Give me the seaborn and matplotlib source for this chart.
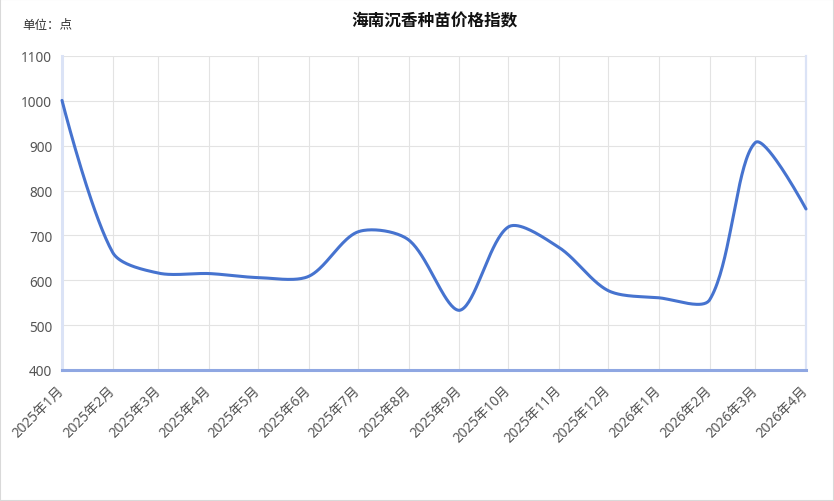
import numpy as np
import pandas as pd
import seaborn as sns
import matplotlib
matplotlib.use("Agg")
import matplotlib.pyplot as plt
import matplotlib.dates as mdates
from matplotlib.patches import Rectangle
from matplotlib.transforms import ScaledTranslation

# data
months = ["2025-01-01", "2025-02-01", "2025-03-01", "2025-04-01", "2025-05-01", "2025-06-01",
          "2025-07-01", "2025-08-01", "2025-09-01", "2025-10-01", "2025-11-01", "2025-12-01",
          "2026-01-01", "2026-02-01", "2026-03-01", "2026-04-01"]
month_labels = ["2025年1月", "2025年2月", "2025年3月", "2025年4月", "2025年5月", "2025年6月",
                "2025年7月", "2025年8月", "2025年9月", "2025年10月", "2025年11月", "2025年12月",
                "2026年1月", "2026年2月", "2026年3月", "2026年4月"]
index_values = [1001, 662, 616, 615, 606, 609, 708, 690, 533, 719, 673, 577, 561, 556, 907, 759]
y_ticks = [400, 500, 600, 700, 800, 900, 1000, 1100]

TITLE = "海南沉香种苗价格指数"
UNIT = "单位：点"
LINE_COLOR = "#4673cf"
SMOOTH = 0.3

sns.set_style("white")
plt.rcParams["font.family"] = ["Noto Sans", "Noto Sans CJK SC", "DejaVu Sans"]

df = pd.DataFrame({"month": pd.to_datetime(months), "value": index_values})
df["x"] = mdates.date2num(df["month"])

W, H = 834, 502
fig = plt.figure(figsize=(W / 100, H / 100), dpi=100)
ax = fig.add_axes([62 / W, 1 - 371 / H, (806 - 62) / W, (371 - 57) / H])
ax.set_xlim(df["x"].iloc[0], df["x"].iloc[-1])
ax.set_ylim(y_ticks[0], y_ticks[-1])


def smooth_curve(px, py, smooth=0.5, steps=40):
    # bezier smoothing in pixel space, control points kept inside the points' bbox
    lo = np.array([px.min(), py.min()])
    hi = np.array([px.max(), py.max()])
    pts = np.column_stack([px, py])
    n = len(pts)
    t = np.linspace(0, 1, steps)[1:, None]
    out = [pts[0]]
    cp0 = pts[0].copy()
    for i in range(1, n):
        p, prev = pts[i], pts[i - 1]
        if i == n - 1:
            ncp = p.copy()
            v = np.zeros(2)
            r = 0.5
        else:
            nxt = pts[i + 1]
            v = nxt - prev
            lp = np.hypot(*(p - prev))
            ln = np.hypot(*(nxt - p))
            r = ln / (ln + lp)
            ncp = p - v * smooth * (1 - r)
        cp0 = np.clip(cp0, lo, hi)
        ncp = np.clip(ncp, lo, hi)
        seg = ((1 - t) ** 3 * prev + 3 * (1 - t) ** 2 * t * cp0
               + 3 * (1 - t) * t ** 2 * ncp + t ** 3 * p)
        out.extend(seg)
        cp0 = p + v * smooth * r
    out = np.array(out)
    return out[:, 0], out[:, 1]


pix = ax.transData.transform(np.column_stack([df["x"], df["value"]]))
sx, sy = smooth_curve(pix[:, 0], pix[:, 1], smooth=SMOOTH)
curve = ax.transData.inverted().transform(np.column_stack([sx, sy]))
smooth_df = pd.DataFrame({"x": curve[:, 0], "value": curve[:, 1]})

sns.lineplot(data=smooth_df, x="x", y="value", sort=False, estimator=None,
             color=LINE_COLOR, linewidth=2.2, ax=ax, clip_on=False, zorder=5,
             solid_capstyle="round")

ax.set_xlim(df["x"].iloc[0], df["x"].iloc[-1])
ax.set_ylim(y_ticks[0], y_ticks[-1])
ax.set_yticks(y_ticks)
ax.set_xticks(df["x"])
ax.set_xticklabels(month_labels, rotation=45, ha="right", va="center",
                   rotation_mode="anchor")
shift = ScaledTranslation(3 / 100, 0, fig.dpi_scale_trans)
for lab in ax.get_xticklabels():
    lab.set_transform(lab.get_transform() + shift)
ax.set_xlabel("")
ax.set_ylabel("")
ax.tick_params(axis="both", length=0, colors="#555555")
ax.tick_params(axis="y", labelsize=9.8, pad=7)
ax.tick_params(axis="x", labelsize=9.8, pad=13)
ax.grid(True, color="#e3e3e3", linewidth=0.8)
ax.set_axisbelow(True)

ax.spines["top"].set_visible(False)
ax.spines["left"].set_color("#dbe3f6")
ax.spines["left"].set_linewidth(2.2)
ax.spines["right"].set_color("#dbe3f6")
ax.spines["right"].set_linewidth(1.6)
ax.spines["bottom"].set_color("#8fa7e2")
ax.spines["bottom"].set_linewidth(2.2)

fig.text(434 / W, 1 - 22 / H, TITLE, ha="center", va="center",
         fontsize=12, fontweight="bold", color="#111111")
fig.text(22 / W, 1 - 26 / H, UNIT, ha="left", va="center",
         fontsize=9, color="#333333")

fig.patches.append(Rectangle((0, 0), 1, 1, transform=fig.transFigure, fill=False,
                             edgecolor="#d9d9d9", linewidth=1.5))

fig.savefig("out.png", dpi=100)
plt.close(fig)
